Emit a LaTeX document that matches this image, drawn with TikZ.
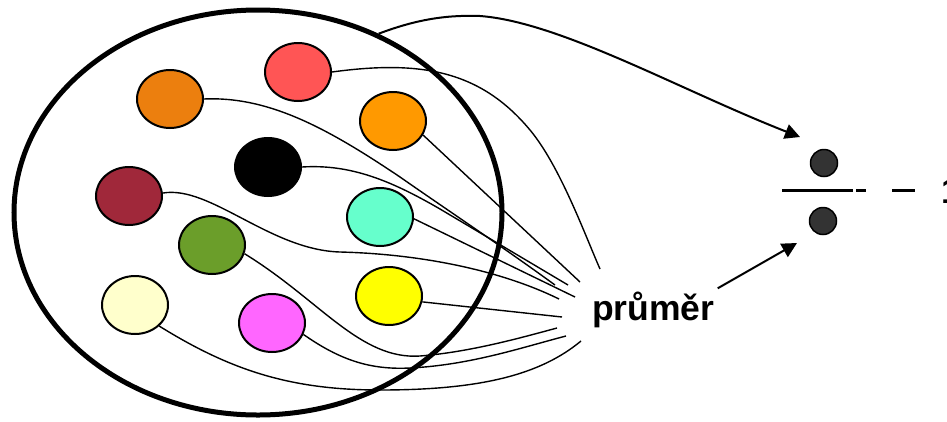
\documentclass[tikz,border=0pt]{standalone}
\usepackage{fontspec}
\setmainfont{Liberation Sans}
\usetikzlibrary{arrows.meta,shapes.geometric}
\definecolor{cOrange}{HTML}{EC7F0E}
\definecolor{cRed}{HTML}{FF5555}
\definecolor{cLOrange}{HTML}{FF9900}
\definecolor{cDRed}{HTML}{A0283A}
\definecolor{cAqua}{HTML}{66FFCC}
\definecolor{cGreen}{HTML}{6B9E2A}
\definecolor{cLYellow}{HTML}{FFFFCC}
\definecolor{cMagenta}{HTML}{FF66FF}
\definecolor{cYellow}{HTML}{FFFF00}
\definecolor{cDot}{HTML}{333333}
\begin{document}
\begin{tikzpicture}[x=1pt,y=-1pt,
  ball/.style={draw=black, ellipse, line width=2pt, minimum width=66pt, minimum height=58pt, inner sep=0pt},
  dot/.style={draw=black, circle, line width=1.5pt, fill=cDot, minimum size=27pt, inner sep=0pt},
  wire/.style={line width=1.4pt},
  arr/.style={line width=2pt, -{Triangle[length=15pt,width=15pt]}},
  frac/.style={line width=3pt},
  lbl/.style={font=\fontsize{35.5}{40}\selectfont\bfseries, inner sep=0pt}
]
\useasboundingbox (0,0) rectangle (947,421);
\fill[white] (0,0) rectangle (947,421);

% big set
\node[draw=black, ellipse, line width=5pt, minimum width=488pt, minimum height=405pt, inner sep=0pt] (big) at (258,212.5) {};

% endpoints near label
\coordinate (ere) at (600,269);
\coordinate (eor) at (555,285);
\coordinate (ebk) at (568,285);
\coordinate (elo) at (580,282);
\coordinate (eaq) at (575,297);
\coordinate (edr) at (559,299);
\coordinate (eye) at (562,317);
\coordinate (egr) at (557,328);
\coordinate (emg) at (566,336);
\coordinate (ely) at (581,341);

% balls
\node[ball, fill=cOrange] (or) at (170,99) {};
\node[ball, fill=cRed] (re) at (298,72) {};
\node[ball, fill=cLOrange] (lo) at (393,121) {};
\node[ball, fill=black] (bk) at (268,167) {};
\node[ball, fill=cDRed] (dr) at (129,196) {};
\node[ball, fill=cAqua] (aq) at (380,217) {};
\node[ball, fill=cGreen] (gr) at (212,245) {};
\node[ball, fill=cLYellow] (ly) at (135,305) {};
\node[ball, fill=cMagenta] (mg) at (272,323) {};
\node[ball, fill=cYellow] (ye) at (389,296) {};

% wires
\draw[wire] (re.east) .. controls (420,60) and (480,70) .. (530,130) .. controls (560,166) and (585,235) .. (ere);
\draw[wire] (or.east) .. controls (270,96) and (330,130) .. (400,177) .. controls (440,205) and (500,245) .. (eor);
\draw[wire] (bk.east) .. controls (350,164) and (390,180) .. (440,209) -- (ebk);
\draw[wire] (lo.-25) -- (elo);
\draw[wire] (aq.-3) -- (eaq);
\draw[wire] (dr.5) .. controls (210,185) and (270,250) .. (340,252) .. controls (420,254) and (500,270) .. (edr);
\draw[wire] (ye.-10) -- (eye);
\draw[wire] (gr.-15) .. controls (320,300) and (360,360) .. (420,356) .. controls (470,352) and (520,338) .. (egr);
\draw[wire] (mg.-20) .. controls (340,360) and (370,370) .. (410,368) .. controls (470,365) and (520,348) .. (emg);
\draw[wire] (ly.-41) .. controls (230,370) and (290,390) .. (380,390) .. controls (480,390) and (540,375) .. (ely);

% label
\node[lbl, anchor=base west] (pr) at (592,320) {průměr};

% right side
\node[dot] (d1) at (824,163) {};
\node[dot] (d2) at (823,221) {};
\coordinate (t1) at (800,137);
\coordinate (t2) at (797,243);
\draw[arr] (big.56) .. controls (420,18) and (450,15) .. (480,16) .. controls (560,22) and (680,90) .. (t1);
\draw[arr] ([shift={(3,-3)}]pr.north east) -- (t2);

% fraction line
\coordinate (f1) at (782,190.7);
\coordinate (f2) at (853,190.7);
\coordinate (f3) at (856,190.7);
\coordinate (f4) at (866,190.7);
\coordinate (f5) at (892,190.7);
\coordinate (f6) at (915,190.7);
\draw[frac] (f1) -- (f2);
\draw[frac] (f3) -- (f4);
\draw[frac] (f5) -- (f6);
\node[lbl, anchor=base west] (one) at (941,203) {1};
\end{tikzpicture}
\end{document}
